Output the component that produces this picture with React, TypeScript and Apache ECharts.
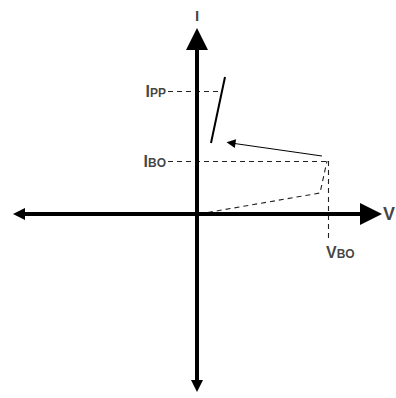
import React, { useEffect, useRef } from "react";
import * as echarts from "echarts";

// Values (V horizontal, I vertical, origin at the axis crossing)
const V_RANGE = [-197, 199];
const I_RANGE = [-184, 214];
const X_AXIS_ENDS = [-178, 174]; // centres of the arrowheads on the V axis
const Y_AXIS_ENDS = [-172, 175]; // centres of the arrowheads on the I axis
const V_BO = 131;
const I_BO = 53;
const I_PP = 123;
const GUIDE_START = -29;
const PP_GUIDE_END = 25;
const VBO_GUIDE_END = -26;
const OFF_STATE = [[2, 0], [123, 21], [130, 53]];
const NEG_RESISTANCE = [[125, 58], [34, 71]];
const ON_STATE = [[14, 71], [28, 137]];
const LABELS = ["I", "V", "PP", "BO"];

export default function App() {
  const ref = useRef<HTMLDivElement>(null);
  useEffect(() => {
    if (!ref.current) return;
    const chart = echarts.init(ref.current, null, { renderer: "svg" });
    const font = "'Liberation Sans', Arial, sans-serif";
    const dashed = { color: "#222", width: 1.1, type: [5, 4] as any };
    const rich = {
      a: { fontSize: 16, fontWeight: 900, fontFamily: font, color: "#111", verticalAlign: "bottom" },
      b: { fontSize: 12, fontWeight: 900, fontFamily: font, color: "#111", verticalAlign: "bottom" },
    };
    const subLabel = (text: string, extra: any) => ({
      show: true,
      fontWeight: "bold",
      fontFamily: font,
      color: "#111",
      formatter: "{a|" + LABELS[0 + (text === "V" ? 1 : 0)] + "}",
      rich,
      ...extra,
    });
    chart.setOption({
      animation: false,
      grid: { left: 0, right: 0, top: 0, bottom: 0 },
      xAxis: { type: "value", min: V_RANGE[0], max: V_RANGE[1], show: false },
      yAxis: { type: "value", min: I_RANGE[0], max: I_RANGE[1], show: false },
      series: [
        {
          type: "line",
          data: OFF_STATE,
          symbol: "none",
          silent: true,
          lineStyle: dashed,
          z: 2,
        },
        {
          type: "lines",
          coordinateSystem: "cartesian2d",
          silent: true,
          symbol: ["none", "none"],
          lineStyle: { ...dashed, opacity: 1 },
          z: 2,
          data: [
            { coords: [[GUIDE_START, I_PP], [PP_GUIDE_END, I_PP]] },
            { coords: [[GUIDE_START, I_BO], [V_BO, I_BO]] },
            { coords: [[V_BO, I_BO], [V_BO, VBO_GUIDE_END]] },
          ],
        },
        {
          type: "line",
          data: ON_STATE,
          symbol: "none",
          silent: true,
          lineStyle: { color: "#000", width: 2 },
          z: 3,
        },
        {
          type: "lines",
          coordinateSystem: "cartesian2d",
          silent: true,
          symbol: ["none", "triangle"],
          symbolSize: [5, 9],
          lineStyle: { color: "#000", width: 1, opacity: 1 },
          itemStyle: { color: "#000" },
          z: 3,
          data: [{ coords: NEG_RESISTANCE }],
        },
        {
          type: "lines",
          coordinateSystem: "cartesian2d",
          silent: true,
          symbol: ["triangle", "triangle"],
          symbolSize: [12, 22],
          lineStyle: { color: "#000", width: 4, opacity: 1 },
          itemStyle: { color: "#000" },
          z: 4,
          data: [
            { coords: [[X_AXIS_ENDS[0], 0], [X_AXIS_ENDS[1], 0]] },
            { coords: [[0, Y_AXIS_ENDS[0]], [0, Y_AXIS_ENDS[1]]] },
          ],
        },
        {
          type: "scatter",
          symbolSize: 0,
          silent: true,
          z: 5,
          data: [
            {
              value: [0, Y_AXIS_ENDS[1] + 11],
              label: {
                show: true, position: "top", distance: 5, formatter: LABELS[0],
                fontSize: 15, fontWeight: 900, fontFamily: font, color: "#111",
              },
            },
            {
              value: [X_AXIS_ENDS[1] + 11, 0],
              label: {
                show: true, position: "right", distance: 1, formatter: LABELS[1],
                fontSize: 18, fontWeight: 900, fontFamily: font, color: "#111",
              },
            },
            {
              value: [GUIDE_START, I_PP],
              label: subLabel("I", {
                position: "left", distance: 2,
                formatter: "{a|" + LABELS[0] + "}{b|" + LABELS[2] + "}",
              }),
            },
            {
              value: [GUIDE_START, I_BO],
              label: subLabel("I", {
                position: "left", distance: 2,
                formatter: "{a|" + LABELS[0] + "}{b|" + LABELS[3] + "}",
              }),
            },
            {
              value: [V_BO, VBO_GUIDE_END],
              label: subLabel("V", {
                position: [-2, 4], align: "left", verticalAlign: "top",
                formatter: "{a|" + LABELS[1] + "}{b|" + LABELS[3] + "}",
              }),
            },
          ],
        },
      ],
    });
    return () => chart.dispose();
  }, []);
  return (
    <div
      ref={ref}
      style={{ position: "absolute", left: 0, top: 0, width: 396, height: 398, background: "#fff" }}
    />
  );
}
